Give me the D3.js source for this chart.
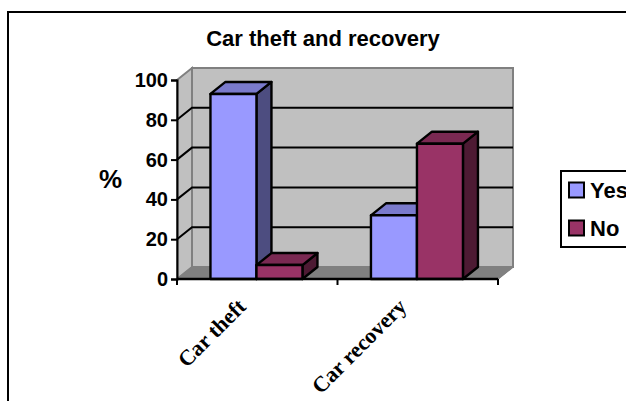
<!DOCTYPE html>
<html><head><meta charset="utf-8">
<script src="https://cdnjs.cloudflare.com/ajax/libs/d3/7.8.5/d3.min.js"></script>
<style>html,body{margin:0;padding:0;background:#fff}svg{display:block}text{font-family:"Liberation Sans",Arial,sans-serif;font-weight:bold;fill:#000}</style>
</head><body><svg id="c" width="626" height="401"></svg>
<script>
const categories=["Car theft","Car recovery"];
const seriesNames=["Yes","No"];
const yesValues=[93,32];
const noValues=[7,68];
const yTicks=[0,20,40,60,80,100];
const title="Car theft and recovery";
const yTitle="%";
const frontColors=["#9999ff","#993366"],topColors=["#7a7acc","#7a2952"],sideColors=["#4d4d80","#4d1a33"];

const svg=d3.select("#c");
const dx=15,dy=-12,barW=46;
const x=d3.scaleBand().domain(categories).range([177,498]);
const y=d3.scaleLinear().domain([0,100]).range([279,80]);
const P=a=>a.map(p=>p.join(",")).join(" ");

svg.append("rect").attr("x",8).attr("y",12).attr("width",640).attr("height",420).attr("fill","#fff").attr("stroke","#000").attr("stroke-width",2);

const x0=x.range()[0],x1=x.range()[1];
svg.append("polygon").attr("points",P([[x0+dx,y(100)+dy],[x1+dx,y(100)+dy],[x1+dx,y(0)+dy],[x0+dx,y(0)+dy]])).attr("fill","#c0c0c0").attr("stroke","#808080").attr("stroke-width",2);
svg.append("polygon").attr("points",P([[x0,y(100)],[x0+dx,y(100)+dy],[x0+dx,y(0)+dy],[x0,y(0)]])).attr("fill","#c0c0c0").attr("stroke","#808080").attr("stroke-width",2);
svg.append("polygon").attr("points",P([[x0,y(0)],[x0+dx,y(0)+dy],[x1+dx,y(0)+dy],[x1,y(0)]])).attr("fill","#808080").attr("stroke","#808080").attr("stroke-width",1);
yTicks.filter(t=>t>0&&t<100).forEach(t=>{
  svg.append("polyline").attr("points",P([[x0,y(t)],[x0+dx,y(t)+dy],[x1+dx,y(t)+dy]])).attr("fill","none").attr("stroke","#000").attr("stroke-width",2);
});
const bars=[];
categories.forEach((c,ci)=>{[yesValues,noValues].forEach((arr,si)=>bars.push({c,si,v:arr[ci]}));});
const g=svg.append("g").attr("stroke","#000").attr("stroke-width",2.4).attr("stroke-linejoin","round");
bars.forEach(b=>{
  const l=x(b.c)+x.bandwidth()/2-barW+b.si*barW-0.8, r=l+barW, t=y(b.v), bt=y(0);
  g.append("polygon").attr("points",P([[r,t],[r+dx,t+dy],[r+dx,bt+dy],[r,bt]])).attr("fill",sideColors[b.si]);
  g.append("polygon").attr("points",P([[l,t],[l+dx,t+dy],[r+dx,t+dy],[r,t]])).attr("fill",topColors[b.si]);
  g.append("rect").attr("x",l).attr("y",t).attr("width",barW).attr("height",bt-t).attr("fill",frontColors[b.si]);
});
const yAxis=d3.axisLeft(y).tickValues(yTicks).tickSize(6).tickPadding(3);
const ya=svg.append("g").attr("transform",`translate(${x0},0)`).call(yAxis);
ya.select(".domain").attr("stroke","#000").attr("stroke-width",2);
ya.selectAll("line").attr("stroke","#000").attr("stroke-width",2);
ya.selectAll("text").style("font-size","20px").attr("fill","#000");
svg.append("line").attr("x1",x1).attr("x2",x1+dx).attr("y1",y(0)).attr("y2",y(0)+dy).attr("stroke","#808080").attr("stroke-width",1.5);
svg.append("line").attr("x1",x0).attr("x2",x1).attr("y1",y(0)).attr("y2",y(0)).attr("stroke","#000").attr("stroke-width",2.4);
[x0,(x0+x1)/2,x1].forEach(v=>{svg.append("line").attr("x1",v).attr("x2",v).attr("y1",y(0)).attr("y2",y(0)+6).attr("stroke","#000").attr("stroke-width",2);});
categories.forEach(c=>{
  const cx=x(c)+x.bandwidth()/2;
  svg.append("text").attr("transform",`translate(${cx-10},${y(0)+29}) rotate(-45)`).attr("text-anchor","end")
    .style("font-family",'"Liberation Serif","Times New Roman",serif').style("font-size","22px").text(c);
});
svg.append("text").attr("x",323).attr("y",46).attr("text-anchor","middle").style("font-size","22px").text(title);
svg.append("text").attr("x",110.5).attr("y",188).attr("text-anchor","middle").style("font-size","26px").text(yTitle);
const lg=svg.append("g");
lg.append("rect").attr("x",561).attr("y",171).attr("width",80).attr("height",76).attr("fill","#fff").attr("stroke","#000").attr("stroke-width",2);
seriesNames.forEach((n,i)=>{
  const ly=[190,228][i];
  lg.append("rect").attr("x",569).attr("y",ly-7.5).attr("width",15).attr("height",15).attr("fill",frontColors[i]).attr("stroke","#000").attr("stroke-width",2);
  lg.append("text").attr("x",590).attr("y",ly+7.5).style("font-size","22px").text(n);
});
</script></body></html>
